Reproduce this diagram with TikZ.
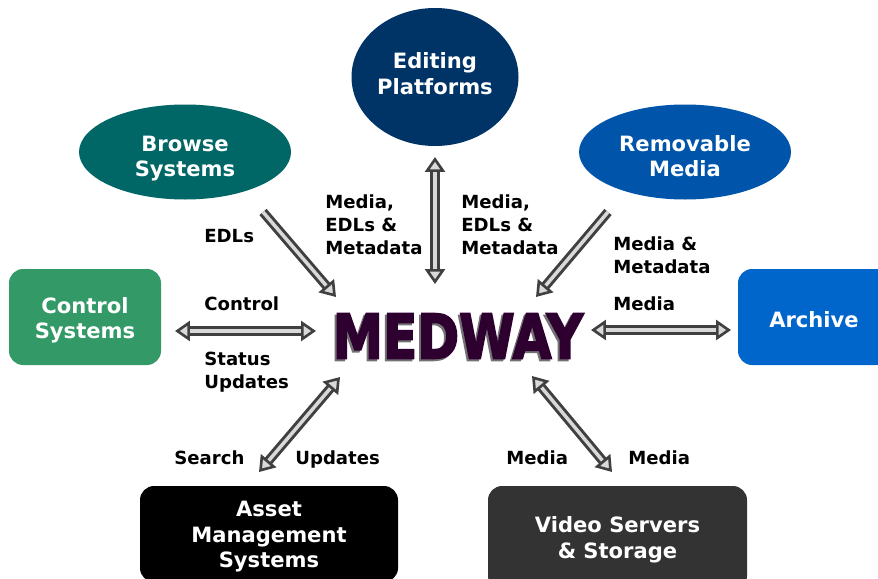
\documentclass[tikz,border=0pt]{standalone}
\usepackage{fontspec}
\usepackage{graphicx}
\setmainfont{DejaVu Sans}
\newfontfamily\medfont[BoldFeatures={FakeBold=3}]{DejaVu Sans}
\usetikzlibrary{arrows.meta}
\usetikzlibrary{shapes.geometric}
\definecolor{editcol}{HTML}{003366}
\definecolor{browsecol}{HTML}{006666}
\definecolor{removecol}{HTML}{0055AA}
\definecolor{controlcol}{HTML}{339966}
\definecolor{archivecol}{HTML}{0066CC}
\definecolor{videocol}{HTML}{333333}
\definecolor{medcol}{HTML}{2D0030}
% struts: the extra height or depth moves the text off the centre of its shape
\newcommand{\tp}[1]{\rule{0pt}{\dimexpr10.15pt+#1pt\relax}}
\newcommand{\bt}[1]{\rule[\dimexpr-4.35pt-#1pt\relax]{0pt}{0pt}}
\tikzset{
  oval/.style={ellipse,fill=#1,text=white,font=\fontsize{12}{14.5}\selectfont\bfseries,align=center,inner sep=0pt},
  box/.style={rectangle,rounded corners=8pt,fill=#1,text=white,font=\fontsize{12}{14.5}\selectfont\bfseries,align=center,inner sep=0pt,minimum width=152*0.02cm,minimum height=96*0.02cm},
  lab/.style={font=\fontsize{10.3}{13}\selectfont\bfseries,align=left,inner sep=0pt,anchor=west},
  tip/.tip={Triangle[length=8.5pt,width=11.4pt,fill=black!15,line width=1.5pt]},
  flow/.style={draw=black!75,line width=1.7pt,double=black!15,double distance=2pt},
  oneway/.style={flow,-{tip}},
  twoway/.style={flow,{tip}-{tip}}
}
\begin{document}
\begin{tikzpicture}[x=0.02cm,y=-0.02cm]
  \useasboundingbox (0,0) rectangle (878,578);
  \clip (0,0) rectangle (878,578);

  \node[oval=editcol,minimum width=167*0.02cm,minimum height=138*0.02cm] (edit) at (435,77) {\tp{0}Editing\\Platforms\bt{0.6}};
  \node[oval=browsecol,minimum width=212*0.02cm,minimum height=95*0.02cm] (browse) at (185,152) {\tp{8}Browse\\Systems\bt{0}};
  \node[oval=removecol,minimum width=212*0.02cm,minimum height=95*0.02cm] (remove) at (685,152) {\tp{8}Removable\\Media\bt{0}};
  \node[box=controlcol] (control) at (85,317) {\tp{4.4}Control\\Systems\bt{0}};
  \node[box=archivecol] (archive) at (814,317) {\tp{6.5}Archive\bt{0}};
  \node[box=black,minimum width=258*0.02cm] (asset) at (269,534) {\tp{3.8}Asset\\Management\\Systems\bt{0}};
  \node[box=videocol,minimum width=259*0.02cm,minimum height=104*0.02cm] (video) at (617.5,538) {\tp{2.8}Video Servers\\\&~Storage\bt{0}};

  % title with its shadow
  \node[text=black!55,inner sep=0pt] (medshadow) at (456,338) {\scalebox{.82}[1]{\medfont\bfseries\fontsize{35}{35}\selectfont MEDWAY}};
  \node[text=medcol,inner sep=0pt] (medway) at (458,336) {\scalebox{.82}[1]{\medfont\bfseries\fontsize{35}{35}\selectfont MEDWAY}};

  % free ends of the arrows
  \coordinate (b1) at (263,212);  \coordinate (b2) at (336,297);
  \coordinate (r1) at (608,212);  \coordinate (r2) at (536,297);
  \coordinate (e1) at (435,157);  \coordinate (e2) at (435,284);
  \coordinate (c1) at (175,331);  \coordinate (c2) at (316,331);
  \coordinate (a1) at (591,330);  \coordinate (a2) at (731,330);
  \coordinate (m1) at (340,377);  \coordinate (m2) at (259,472);
  \coordinate (v1) at (532,376);  \coordinate (v2) at (612,472);

  \foreach \p/\q in {b1/b2,r1/r2}{
    \draw[oneway] (\p) -- (\q);
  }
  \foreach \p/\q in {e1/e2,c1/c2,a1/a2,m1/m2,v1/v2}{
    \draw[twoway] (\p) -- (\q);
  }

  \node[lab] (l1) at (204,236) {EDLs};
  \node[lab] (l2) at (325,224.5) {Media,\\EDLs \&\\Metadata};
  \node[lab] (l3) at (461,224.5) {Media,\\EDLs \&\\Metadata};
  \node[lab] (l4) at (613,255) {Media \&\\Metadata};
  \node[lab] (l5) at (204,304) {Control};
  \node[lab] (l6) at (613,304) {Media};
  \node[lab] (l7) at (204,372) {Status\\Updates};
  \node[lab] (l8) at (174,458) {Search};
  \node[lab] (l9) at (295,459) {Updates};
  \node[lab] (l10) at (506,458) {Media};
  \node[lab] (l11) at (628,458) {Media};
\end{tikzpicture}
\end{document}
